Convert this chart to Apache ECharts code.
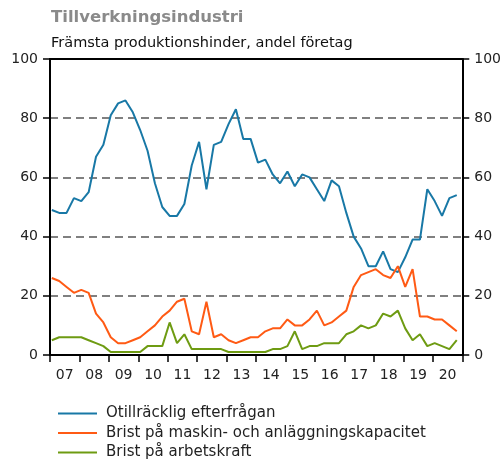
<!DOCTYPE html>
<html>
<head>
<meta charset="utf-8">
<script src="https://cdn.jsdelivr.net/npm/echarts@6/dist/echarts.min.js"></script>
<style>html,body{margin:0;padding:0;background:#fff;}#c{width:504px;height:459px;}</style>
</head>
<body>
<div id="c"></div>
<script>
const years = ['07','08','09','10','11','12','13','14','15','16','17','18','19','20'];
const yTicks = [0, 20, 40, 60, 80, 100];
const efterfragan = [49,48,48,53,52,55,67,71,81,85,86,82,76,69,58,50,47,47,51,64,72,56,71,72,78,83,73,73,65,66,61,58,62,57,61,60,56,52,59,57,48,40,36,30,30,35,29,28,33,39,39,56,52,47,53,54];
const maskin = [26,25,23,21,22,21,14,11,6,4,4,5,6,8,10,13,15,18,19,8,7,18,6,7,5,4,5,6,6,8,9,9,12,10,10,12,15,10,11,13,15,23,27,28,29,27,26,30,23,29,13,13,12,12,10,8];
const arbetskraft = [5,6,6,6,6,5,4,3,1,1,1,1,1,3,3,3,11,4,7,2,2,2,2,2,1,1,1,1,1,1,2,2,3,8,2,3,3,4,4,4,7,8,10,9,10,14,13,15,9,5,7,3,4,3,2,5];
const names = ['Otillräcklig efterfrågan','Brist på maskin- och anläggningskapacitet','Brist på arbetskraft'];
const colors = ['#1878a6','#ff5a14','#6e9b12'];

function pts(arr){ return arr.map((v,i)=>[i+0.25, v]); }

const chart = echarts.init(document.getElementById('c'), null, {renderer:'canvas'});
const font = 'DejaVu Sans';
chart.setOption({
  animation:false,
  backgroundColor:'#fff',
  title:[
    {text:'Tillverkningsindustri', left:51, top:9, padding:0, textStyle:{fontFamily:font, fontSize:16.5, fontWeight:'bold', color:'#8a8a8a'}},
    {text:'Främsta produktionshinder, andel företag', left:51, top:36, padding:0, textStyle:{fontFamily:font, fontSize:14.5, fontWeight:'normal', color:'#111'}}
  ],
  grid:{left:50, right:39, top:59, bottom:104},
  legend:{
    orient:'vertical', left:58, top:406, padding:0, height:60,
    icon:'rect', itemWidth:39, itemHeight:2, itemGap:4.5,
    textStyle:{fontFamily:font, fontSize:15, lineHeight:14.5, color:'#222', padding:[0,0,0,4]},
    data:names
  },
  xAxis:[
    {type:'category', data:years, boundaryGap:true, position:'bottom',
     axisLine:{show:true, lineStyle:{color:'#000', width:2}},
     axisTick:{show:true, length:7, inside:false, lineStyle:{color:'#000', width:1.5}},
     axisLabel:{fontFamily:font, fontSize:14, color:'#222', margin:13},
     splitLine:{show:false}},
    {type:'value', min:0, max:56, show:false},
    {type:'category', data:years, position:'top',
     axisLine:{show:true, lineStyle:{color:'#000', width:2}},
     axisTick:{show:false}, axisLabel:{show:false}}
  ],
  yAxis:[
    {type:'value', min:0, max:100, interval:20, position:'left',
     axisLine:{show:true, lineStyle:{color:'#000', width:2}},
     axisTick:{show:true, length:7, lineStyle:{color:'#000', width:1.5}},
     axisLabel:{fontFamily:font, fontSize:14, color:'#222', margin:12,
       formatter:v=>yTicks.includes(v)?String(v):''},
     splitLine:{show:true, lineStyle:{color:'#808080', width:2, type:[8,5]}}},
    {type:'value', min:0, max:100, interval:20, position:'right',
     axisLine:{show:true, lineStyle:{color:'#000', width:2}},
     axisTick:{show:true, length:7, lineStyle:{color:'#000', width:1.5}},
     axisLabel:{fontFamily:font, fontSize:14, color:'#222', margin:12,
       formatter:v=>yTicks.includes(v)?String(v):''},
     splitLine:{show:false}}
  ],
  series:[efterfragan, maskin, arbetskraft].map((arr,k)=>({
    name:names[k], type:'line', xAxisIndex:1, yAxisIndex:0,
    data:pts(arr), symbol:'none', smooth:false,
    lineStyle:{color:colors[k], width:2}, itemStyle:{color:colors[k]}
  }))
});
</script>
</body>
</html>
